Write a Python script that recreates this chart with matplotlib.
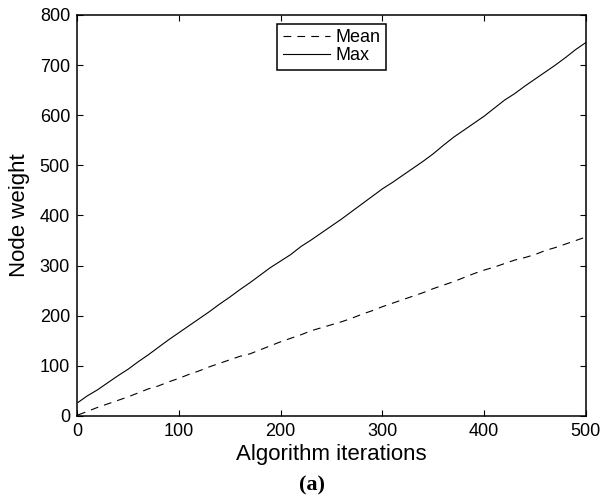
import matplotlib
matplotlib.use("Agg")
import matplotlib.pyplot as plt

# values
iterations = [1, 10, 20, 30, 40, 50, 60, 70, 80, 90, 100, 110, 120, 130, 140, 150,
              160, 170, 180, 190, 200, 210, 220, 230, 240, 250, 260, 270, 280, 290,
              300, 310, 320, 330, 340, 350, 360, 370, 380, 390, 400, 410, 420, 430,
              440, 450, 460, 470, 480, 490, 500]
max_weight = [27, 40, 52, 66, 80, 93, 108, 122, 137, 152, 166, 180, 194, 208, 223, 237,
              252, 266, 281, 296, 309, 322, 338, 351, 365, 379, 393, 408, 423, 438,
              453, 466, 480, 494, 508, 523, 540, 556, 570, 584, 598, 614, 630, 643,
              658, 672, 686, 700, 715, 731, 745]
mean_weight = [2, 9, 17, 24, 31, 38, 46, 54, 60, 68, 75, 83, 90, 98, 105, 112,
               119, 124, 132, 140, 148, 155, 162, 170, 176, 182, 188, 195, 203, 210,
               218, 225, 232, 239, 246, 254, 261, 268, 276, 284, 291, 297, 304, 311,
               316, 322, 330, 336, 343, 350, 357]

plt.rcParams['font.family'] = ['Liberation Sans', 'DejaVu Sans']

fig = plt.figure(figsize=(6.03, 4.97), dpi=100)
ax = fig.add_axes([0.1277, 0.163, 0.844, 0.807])

ax.plot(iterations, mean_weight, color='k', linestyle=(0, (7, 5.5)), linewidth=0.8, label='Mean')
ax.plot(iterations, max_weight, color='k', linestyle='-', linewidth=0.8, label='Max')

ax.set_xlim(0, 500)
ax.set_ylim(0, 800)
ax.set_xticks(range(0, 501, 100))
ax.set_yticks(range(0, 801, 100))
ax.tick_params(direction='in', top=True, right=True, length=4, width=0.8,
               labelsize=13, pad=5)
for s in ax.spines.values():
    s.set_linewidth(1.1)

ax.set_xlabel('Algorithm iterations', fontsize=16, labelpad=3)
ax.set_ylabel('Node weight', fontsize=16, labelpad=7)

leg = ax.legend(loc='upper center', fontsize=13, frameon=True, fancybox=False,
                handlelength=2.6, handletextpad=0.3, borderpad=0.3,
                labelspacing=0.05, borderaxespad=0.5)
leg.get_frame().set_edgecolor('k')
leg.get_frame().set_linewidth(1.1)
leg.get_frame().set_alpha(1)

fig.text(312 / 603, 7 / 497, '(a)', fontsize=16, fontweight='bold',
         ha='center', va='baseline', family=['Liberation Serif', 'DejaVu Serif'])

fig.savefig('out.png', dpi=100)
